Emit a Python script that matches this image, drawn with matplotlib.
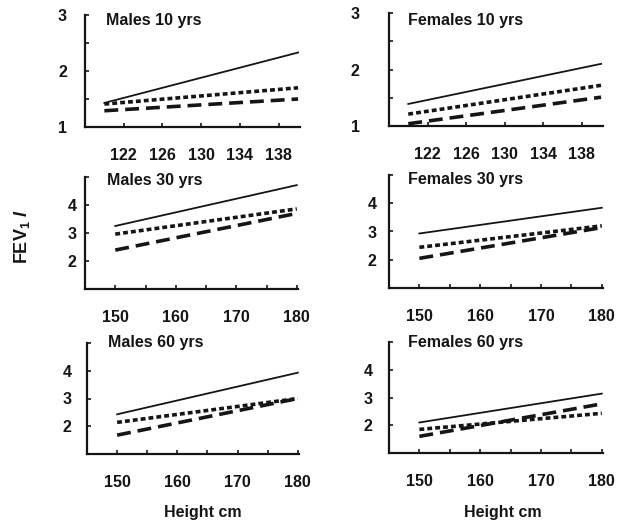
import matplotlib
matplotlib.use("Agg")
import matplotlib.pyplot as plt

plt.rcParams['font.family'] = ['Liberation Sans', 'DejaVu Sans']
plt.rcParams['font.weight'] = 'bold'
plt.rcParams['mathtext.fontset'] = 'custom'
plt.rcParams['mathtext.rm'] = 'Liberation Sans:bold'
plt.rcParams['mathtext.it'] = 'Liberation Sans:italic:bold'
plt.rcParams['lines.scale_dashes'] = False

# panel titles, in reading order
titles = ['Males 10 yrs', 'Females 10 yrs',
          'Males 30 yrs', 'Females 30 yrs',
          'Males 60 yrs', 'Females 60 yrs']

# heights (cm) at the two ends of each fitted line
heights_child = [120, 140]
heights_adult = [150, 180]

# FEV1 (l) at the two ends, three lines per panel
solid = [[1.43, 2.33], [1.39, 2.10], [3.25, 4.71],
         [2.93, 3.84], [2.43, 3.93], [2.10, 3.14]]
dotted = [[1.41, 1.70], [1.21, 1.72], [2.96, 3.86],
          [2.44, 3.20], [2.14, 3.00], [1.85, 2.43]]
dashed = [[1.29, 1.50], [1.04, 1.51], [2.39, 3.70],
          [2.05, 3.14], [1.68, 3.00], [1.60, 2.77]]

child_ticks = [122, 126, 130, 134, 138]
adult_ticks = [150, 155, 160, 165, 170, 175, 180]
adult_labels = ['150', '', '160', '', '170', '', '180']

W, H = 619, 525
fig = plt.figure(figsize=(W / 100, H / 100), dpi=100)

# axes rectangles in pixels: left, bottom(from top), width, height
rects = [(85, 127, 215, 112), (389, 126, 214, 113),
         (85, 289, 213, 112), (389, 288, 214, 113),
         (87, 454, 212, 111), (389, 453, 214, 111)]
ypads = [13, 21, 6, 9, 11, 12]
title_y = [0.955, 0.93, 0.973, 0.956, 1.0, 1.0]
title_x = [0.10, 0.09, 0.105, 0.09, 0.10, 0.09]

ink = '#151515'
for i, (l, b, w, h) in enumerate(rects):
    ax = fig.add_axes([l / W, (H - b) / H, w / W, h / H])
    for s in ['top', 'right']:
        ax.spines[s].set_visible(False)
    for s in ['left', 'bottom']:
        ax.spines[s].set_linewidth(1.6)
        ax.spines[s].set_color(ink)

    xs = heights_child if i < 2 else heights_adult
    ax.plot(xs, solid[i], color=ink, lw=1.3)
    ax.plot(xs, dotted[i], color=ink, lw=2.6, dashes=(3.5, 2.2))
    ax.plot(xs, dashed[i], color=ink, lw=2.6, dashes=(10, 5))

    if i < 2:
        ax.set_xlim(118, 140.2)
        ax.set_ylim(1, 3)
        ax.set_xticks(child_ticks)
        ax.set_yticks([1, 1.5, 2, 2.5, 3])
        ax.set_yticklabels(['1', '', '2', '', '3'])
    else:
        ax.set_xlim(145, 180.2)
        ax.set_ylim(1, 5)
        ax.set_xticks(adult_ticks)
        ax.set_xticklabels(adult_labels)
        ax.set_yticks([1, 2, 3, 4, 5])
        ax.set_yticklabels(['', '2', '3', '4', ''])

    ax.tick_params(axis='x', direction='in', length=3, width=1.2,
                   pad=15, labelsize=11.5, colors=ink)
    ax.tick_params(axis='y', direction='in', length=3, width=1.2,
                   pad=ypads[i], labelsize=11.5, colors=ink)

    ax.text(title_x[i], title_y[i], titles[i], transform=ax.transAxes,
            ha='left', va='center', fontsize=11.5, color=ink)

fig.text(22 / W, 1 - 236 / H, 'FEV$_1$ $l$', rotation=90,
         ha='center', va='center', fontsize=13, color=ink)
fig.text(203 / W, 1 - 512 / H, 'Height cm', ha='center', va='center',
         fontsize=11.5, color=ink)
fig.text(503 / W, 1 - 512 / H, 'Height cm', ha='center', va='center',
         fontsize=11.5, color=ink)

fig.savefig('out.png', dpi=100, facecolor='white')
